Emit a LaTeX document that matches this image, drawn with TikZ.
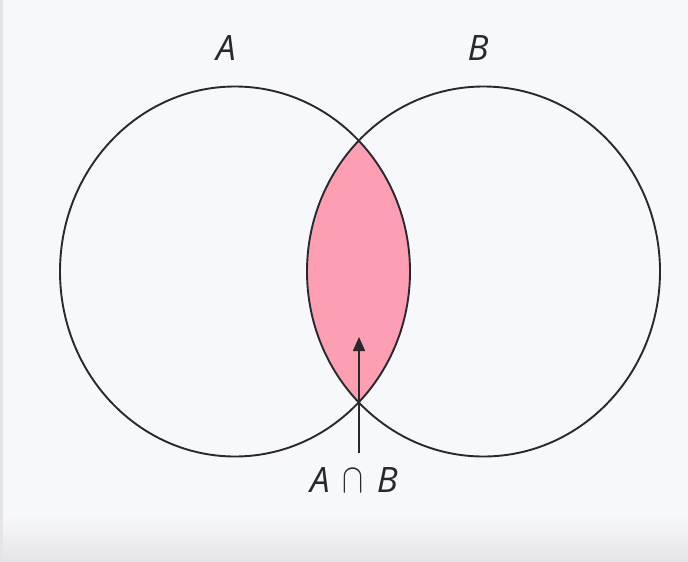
\documentclass[tikz,border=0pt]{standalone}
\usepackage{fontspec}
\usepackage{graphicx}
\setmainfont{Open Sans}
\usetikzlibrary{arrows.meta}
\definecolor{bgcol}{RGB}{247,248,252}
\definecolor{bgbot}{RGB}{228,228,233}
\definecolor{linecol}{RGB}{40,40,45}
\definecolor{lenscol}{RGB}{253,158,178}
\tikzset{
  setline/.style={draw=linecol, line width=1.9pt},
  setlabel/.style={font=\fontsize{35}{40}\selectfont\itshape, text=linecol, inner sep=0pt},
  pointer/.style={draw=linecol, line width=1.6pt, -{Triangle[width=12pt,length=14pt]}}
}
\begin{document}
\begin{tikzpicture}[x=1pt,y=-1pt]
  \useasboundingbox (0,0) rectangle (688,562);
  \fill[bgcol] (0,0) rectangle (688,562);
  \shade[top color=bgcol, bottom color=bgbot] (0,515) rectangle (688,562);
  \fill[bgbot] (0,0) rectangle (3,562);
  \coordinate (ca) at (235,271.5);
  \coordinate (cb) at (483.5,271.5);
  \begin{scope}
    \clip (ca) ellipse [x radius=175pt, y radius=185pt];
    \fill[lenscol] (cb) ellipse [x radius=176.5pt, y radius=185pt];
  \end{scope}
  \draw[setline] (ca) ellipse [x radius=175pt, y radius=185pt];
  \draw[setline] (cb) ellipse [x radius=176.5pt, y radius=185pt];
  \node[setlabel] (la) at (226,48) {A};
  \node[setlabel] (lb) at (478,48) {B};
  \node[setlabel] (lab) at (354,480) {A\hspace{13pt}\resizebox{21pt}{23pt}{$\cap$}\hspace{13pt}B};
  \coordinate (tail) at (359,453);
  \coordinate (tip) at (359,337);
  \draw[pointer] (tail) -- (tip);
\end{tikzpicture}
\end{document}
